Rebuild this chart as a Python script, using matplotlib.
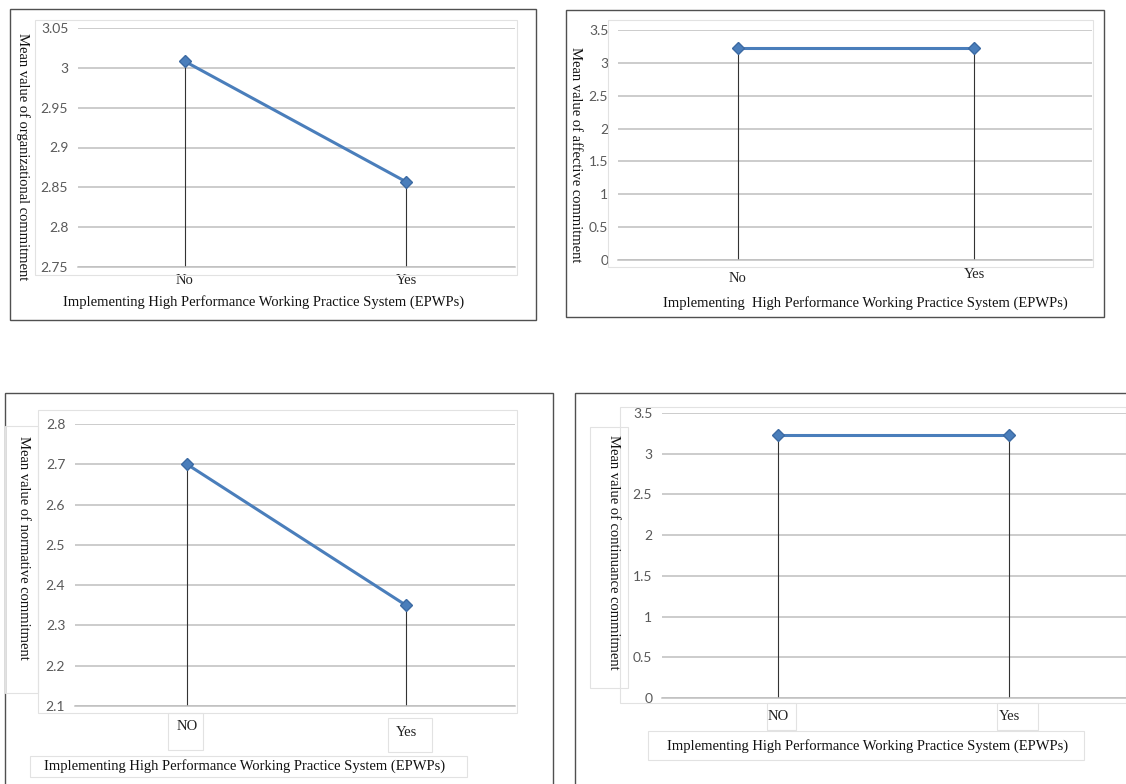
import matplotlib
matplotlib.use("Agg")
import matplotlib.pyplot as plt
from matplotlib.patches import Rectangle

W, H = 1126, 784

# ---- data ----
cat_top = ["No", "Yes"]
cat_bottom = ["NO", "Yes"]
org_commitment = [3.008, 2.857]
aff_commitment = [3.23, 3.23]
norm_commitment = [2.70, 2.35]
cont_commitment = [3.23, 3.23]

org_ticks = [2.75, 2.8, 2.85, 2.9, 2.95, 3.0, 3.05]
org_ticklabels = ["2.75", "2.8", "2.85", "2.9", "2.95", "3", "3.05"]
half_ticks = [0, 0.5, 1, 1.5, 2, 2.5, 3, 3.5]
half_ticklabels = ["0", "0.5", "1", "1.5", "2", "2.5", "3", "3.5"]
norm_ticks = [2.1, 2.2, 2.3, 2.4, 2.5, 2.6, 2.7, 2.8]
norm_ticklabels = ["2.1", "2.2", "2.3", "2.4", "2.5", "2.6", "2.7", "2.8"]

xlabel_text = "Implementing High Performance Working Practice System (EPWPs)"
xlabel_text2 = "Implementing  High Performance Working Practice System (EPWPs)"
ylabels = ["Mean value of organizational commitment",
           "Mean value of affective commitment",
           "Mean value of normative commitment",
           "Mean value of continuance commitment"]

LINE = "#4a7ebb"
GRID = "#bfbfbf"
TICKC = "#595959"
BOXC = "#e2e2e2"
SERIF = ["Liberation Serif", "DejaVu Serif"]
SANS = ["Lato", "DejaVu Sans"]
FS = 10.5

fig = plt.figure(figsize=(W / 100, H / 100), dpi=100)
fig.patch.set_facecolor("white")


def px_rect(l, t, r, b):
    return [l / W, 1 - b / H, (r - l) / W, (b - t) / H]


def frame(l, t, r, b, color="#505050", lw=1.0, z=0):
    fig.patches.append(Rectangle((l / W, 1 - b / H), (r - l) / W, (b - t) / H,
                                 transform=fig.transFigure, fill=False,
                                 edgecolor=color, lw=lw, zorder=z))


def panel(rect, xlim, ylim, ticks, ticklabels, cats, values, ylab, ylab_xy,
          xlab, xlab_xy, cat_xy):
    ax = fig.add_axes(px_rect(*rect))
    ax.set_facecolor("none")
    ax.set_xlim(*xlim)
    ax.set_ylim(*ylim)
    ax.set_yticks(ticks)
    ax.set_yticklabels(ticklabels, fontfamily=SANS, fontsize=10, color=TICKC)
    ax.yaxis.grid(True, color=GRID, lw=1.1)
    ax.set_axisbelow(True)
    for s in ["top", "right", "left"]:
        ax.spines[s].set_visible(False)
    ax.spines["bottom"].set_color(GRID)
    ax.spines["bottom"].set_linewidth(1.1)
    ax.tick_params(axis="y", length=0, pad=7)
    xs = list(range(len(cats)))
    ax.set_xticks([])
    # category labels below the axis (x from data, y in pixels)
    for x, c, yy in zip(xs, cats, cat_xy):
        ax.text(x, 1 - (yy - rect[1]) / (rect[3] - rect[1]), c,
                transform=ax.get_xaxis_transform(), ha="center", va="center",
                fontfamily=SERIF, fontsize=FS, color="#222222")
    # drop lines
    ax.vlines(xs, ylim[0], values, colors="#333333", lw=0.8, zorder=2)
    ax.plot(xs, values, color=LINE, lw=2.2, marker="D", markersize=6.5,
            markerfacecolor=LINE, markeredgecolor="#3c6aa3", zorder=3)
    fig.text(ylab_xy[0] / W, 1 - ylab_xy[1] / H, ylab, rotation=270,
             ha="center", va="center", fontfamily=SERIF, fontsize=FS,
             color="#111111")
    fig.text(xlab_xy[0] / W, 1 - xlab_xy[1] / H, xlab, ha="center",
             va="center", fontfamily=SERIF, fontsize=FS, color="#111111")
    return ax


# outer frames
frame(10, 9, 536, 320)
frame(566, 10, 1104, 317)
frame(5, 393, 553, 790)
frame(575, 393, 1130, 790)

# light plot-area / text boxes
frame(35, 20, 517, 275, color=BOXC, lw=0.8)
frame(608, 20, 1093, 267, color=BOXC, lw=0.8)
frame(38, 410, 517, 713, color=BOXC, lw=0.8)
frame(5, 426, 38, 693, color=BOXC, lw=0.8)
frame(168, 713, 203, 750, color=BOXC, lw=0.8)
frame(388, 718, 432, 752, color=BOXC, lw=0.8)
frame(30, 756, 467, 777, color=BOXC, lw=0.8)
frame(620, 407, 1126, 703, color=BOXC, lw=0.8)
frame(590, 427, 628, 688, color=BOXC, lw=0.8)
frame(767, 703, 796, 730, color=BOXC, lw=0.8)
frame(997, 703, 1038, 730, color=BOXC, lw=0.8)
frame(648, 731, 1084, 760, color=BOXC, lw=0.8)

# panel 1: gridlines 78..515, No at 185, Yes at 406
panel((78, 28, 515, 267), (-107 / 221, 1 + 109 / 221), (2.75, 3.05),
      org_ticks, org_ticklabels, cat_top, org_commitment, ylabels[0],
      (23, 157), xlabel_text, (264, 302), (281, 281))

# panel 2: gridlines 618..1092, No 738, Yes 974
panel((618, 30, 1092, 260), (-120 / 236, 1 + 118 / 236), (0, 3.5),
      half_ticks, half_ticklabels, cat_top, aff_commitment, ylabels[1],
      (576, 155), xlabel_text2, (865, 303), (278, 274))

# panel 3: gridlines 75..515, NO 187, Yes 406
panel((75, 424, 515, 706), (-112 / 219, 1 + 109 / 219), (2.1, 2.8),
      norm_ticks, norm_ticklabels, cat_bottom, norm_commitment, ylabels[2],
      (23, 548), xlabel_text, (245, 766), (727, 733))

# panel 4: gridlines 662..1126, NO 778, Yes 1009
panel((662, 413, 1126, 698), (-116 / 231, 1 + 117 / 231), (0, 3.5),
      half_ticks, half_ticklabels, cat_bottom, cont_commitment, ylabels[3],
      (613, 552), xlabel_text, (868, 746), (716, 717))

fig.savefig("out.png", dpi=100, facecolor="white")
